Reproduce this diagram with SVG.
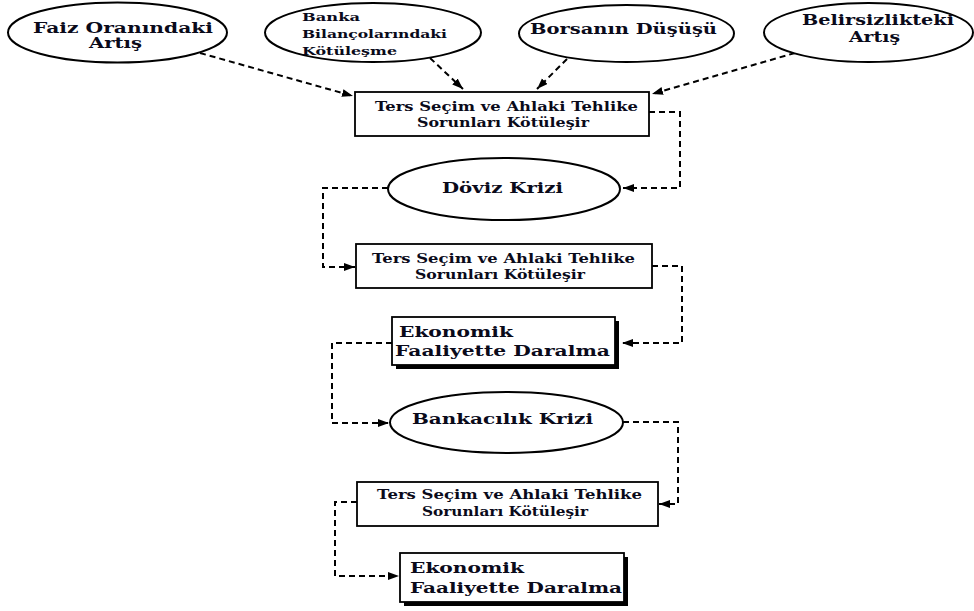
<svg xmlns="http://www.w3.org/2000/svg" width="974" height="611" viewBox="0 0 974 611">
<defs>
<marker id="ah" markerUnits="userSpaceOnUse" markerWidth="12" markerHeight="10" refX="11" refY="4" orient="auto">
<path d="M0,0 L11,4 L0,8 z" fill="#000"/>
</marker>
<style>
.el{fill:#fff;stroke:#000;stroke-width:2}
.bx{fill:#fff;stroke:#000;stroke-width:1.8}
.sh{fill:#000}
.t{font-family:"DejaVu Serif","Liberation Serif",serif;font-weight:bold;fill:#0a0a1a}
.c{fill:none;stroke:#000;stroke-width:2;stroke-dasharray:6,4;marker-end:url(#ah)}
</style>
</defs>
<rect width="974" height="611" fill="#fff"/>
<g id="connectors">
<path class="c" d="M200,53 L353,96"/>
<path class="c" d="M430,58 L463,89"/>
<path class="c" d="M567,59 L537,89"/>
<path class="c" d="M795,53 L652,94"/>
<path class="c" d="M649,112 L680,112 L680,188 L623,188"/>
<path class="c" d="M388,188 L323,188 L323,267 L355,267"/>
<path class="c" d="M652,266 L682,266 L682,343 L622,343"/>
<path class="c" d="M392,343 L332,343 L332,423 L389,423"/>
<path class="c" d="M623,422 L678,422 L678,504 L659,504"/>
<path class="c" d="M357,502 L335,502 L335,576 L399,576"/>
</g>
<g id="n-faiz">
<ellipse class="el" cx="117.5" cy="32.5" rx="109.5" ry="30"/>
<text class="t" font-size="14" x="33" y="32.5" textLength="180" lengthAdjust="spacingAndGlyphs">Faiz Oranındaki</text>
<text class="t" font-size="14" x="89" y="48" textLength="53" lengthAdjust="spacingAndGlyphs">Artış</text>
</g>
<g id="n-banka">
<ellipse class="el" cx="373" cy="32.5" rx="108" ry="29.5"/>
<text class="t" font-size="11.5" x="302" y="21" textLength="58" lengthAdjust="spacingAndGlyphs">Banka</text>
<text class="t" font-size="11.5" x="302" y="38" textLength="145" lengthAdjust="spacingAndGlyphs">Bilançolarındaki</text>
<text class="t" font-size="11.5" x="302" y="55" textLength="95" lengthAdjust="spacingAndGlyphs">Kötüleşme</text>
</g>
<g id="n-borsa">
<ellipse class="el" cx="626.5" cy="33.5" rx="107.5" ry="28.5"/>
<text class="t" font-size="14.5" x="530" y="34" textLength="187" lengthAdjust="spacingAndGlyphs">Borsanın Düşüşü</text>
</g>
<g id="n-belirsiz">
<ellipse class="el" cx="868.5" cy="32.5" rx="104.5" ry="29.5"/>
<text class="t" font-size="14" x="802" y="24.5" textLength="152" lengthAdjust="spacingAndGlyphs">Belirsizlikteki</text>
<text class="t" font-size="14" x="849" y="42" textLength="51" lengthAdjust="spacingAndGlyphs">Artış</text>
</g>
<g id="n-ters1">
<rect class="bx" x="355" y="92" width="294" height="44"/>
<text class="t" font-size="13" x="375" y="111" textLength="263" lengthAdjust="spacingAndGlyphs">Ters Seçim ve Ahlaki Tehlike</text>
<text class="t" font-size="13" x="417" y="127" textLength="172" lengthAdjust="spacingAndGlyphs">Sorunları Kötüleşir</text>
</g>
<g id="n-doviz">
<ellipse class="el" cx="504" cy="189" rx="116" ry="31"/>
<text class="t" font-size="15" x="442" y="193" textLength="121" lengthAdjust="spacingAndGlyphs">Döviz Krizi</text>
</g>
<g id="n-ters2">
<rect class="bx" x="356" y="244" width="296" height="44"/>
<text class="t" font-size="13" x="372" y="263" textLength="263" lengthAdjust="spacingAndGlyphs">Ters Seçim ve Ahlaki Tehlike</text>
<text class="t" font-size="13" x="415" y="279" textLength="170" lengthAdjust="spacingAndGlyphs">Sorunları Kötüleşir</text>
</g>
<g id="n-ekonomik1">
<rect class="sh" x="396" y="321" width="223" height="48"/>
<rect class="bx" x="392" y="317" width="223" height="48"/>
<text class="t" font-size="15.5" x="399" y="337" textLength="114" lengthAdjust="spacingAndGlyphs">Ekonomik</text>
<text class="t" font-size="15.5" x="395" y="356" textLength="215" lengthAdjust="spacingAndGlyphs">Faaliyette Daralma</text>
</g>
<g id="n-bankacilik">
<ellipse class="el" cx="506.5" cy="422.5" rx="116.5" ry="30.5"/>
<text class="t" font-size="15" x="412" y="424" textLength="181" lengthAdjust="spacingAndGlyphs">Bankacılık Krizi</text>
</g>
<g id="n-ters3">
<rect class="bx" x="357" y="482" width="301" height="44"/>
<text class="t" font-size="13" x="377" y="499" textLength="265" lengthAdjust="spacingAndGlyphs">Ters Seçim ve Ahlaki Tehlike</text>
<text class="t" font-size="13" x="422" y="516" textLength="166" lengthAdjust="spacingAndGlyphs">Sorunları Kötüleşir</text>
</g>
<g id="n-ekonomik2">
<rect class="sh" x="404" y="557" width="224" height="49"/>
<rect class="bx" x="400" y="553" width="224" height="49"/>
<text class="t" font-size="15.5" x="410" y="573" textLength="114" lengthAdjust="spacingAndGlyphs">Ekonomik</text>
<text class="t" font-size="15.5" x="410" y="593" textLength="212" lengthAdjust="spacingAndGlyphs">Faaliyette Daralma</text>
</g>
</svg>
